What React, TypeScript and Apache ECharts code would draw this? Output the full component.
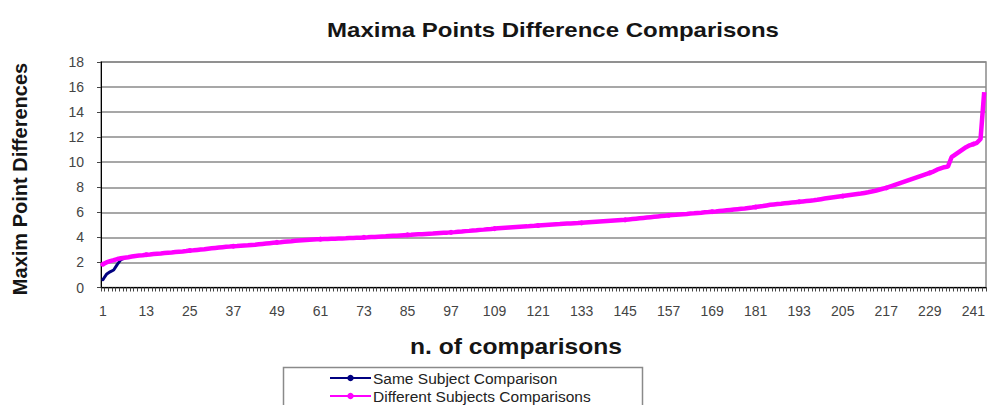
import { useEffect, useRef } from "react";
import * as echarts from "echarts";

// Comparison numbers 1..244 along the x axis
const comparisonIndex: string[] = Array.from({ length: 244 }, (_, i) => String(i + 1));

// Sorted maxima-point differences, same-subject pairs
const sameSubject: number[] = [0.62, 1.05, 1.25, 1.4, 1.85, 2.22, 2.35];

// Sorted maxima-point differences, different-subject pairs
const differentSubjects: number[] = [
  1.85, 2.0, 2.1, 2.18, 2.27, 2.33, 2.38, 2.42, 2.47, 2.52, 2.55, 2.58,
  2.62, 2.64, 2.67, 2.7, 2.72, 2.75, 2.78, 2.8, 2.83, 2.86, 2.88, 2.91,
  2.95, 2.97, 3.0, 3.03, 3.06, 3.1, 3.13, 3.16, 3.19, 3.22, 3.25, 3.27,
  3.3, 3.31, 3.33, 3.35, 3.37, 3.4, 3.42, 3.45, 3.48, 3.51, 3.54, 3.57,
  3.6, 3.62, 3.65, 3.68, 3.7, 3.73, 3.75, 3.77, 3.79, 3.81, 3.83, 3.85,
  3.86, 3.87, 3.88, 3.89, 3.9, 3.91, 3.92, 3.93, 3.95, 3.96, 3.97, 3.98,
  4.0, 4.01, 4.03, 4.04, 4.06, 4.08, 4.09, 4.11, 4.13, 4.14, 4.16, 4.18,
  4.2, 4.21, 4.23, 4.25, 4.26, 4.28, 4.3, 4.31, 4.33, 4.35, 4.37, 4.38,
  4.4, 4.42, 4.45, 4.47, 4.5, 4.52, 4.55, 4.57, 4.6, 4.62, 4.65, 4.67,
  4.7, 4.72, 4.74, 4.76, 4.78, 4.8, 4.82, 4.84, 4.86, 4.88, 4.91, 4.93,
  4.95, 4.97, 4.99, 5.01, 5.03, 5.05, 5.06, 5.08, 5.1, 5.11, 5.13, 5.14,
  5.16, 5.18, 5.2, 5.22, 5.24, 5.26, 5.28, 5.3, 5.32, 5.34, 5.36, 5.38,
  5.4, 5.43, 5.46, 5.49, 5.52, 5.55, 5.58, 5.61, 5.64, 5.67, 5.7, 5.73,
  5.76, 5.78, 5.8, 5.83, 5.85, 5.87, 5.9, 5.92, 5.95, 5.97, 6.0, 6.02,
  6.05, 6.07, 6.1, 6.13, 6.16, 6.19, 6.22, 6.25, 6.28, 6.31, 6.35, 6.38,
  6.42, 6.46, 6.5, 6.55, 6.6, 6.63, 6.66, 6.69, 6.72, 6.75, 6.78, 6.81,
  6.84, 6.87, 6.9, 6.93, 6.96, 7.0, 7.05, 7.1, 7.14, 7.18, 7.22, 7.26,
  7.3, 7.34, 7.38, 7.42, 7.46, 7.5, 7.55, 7.6, 7.66, 7.72, 7.8, 7.88,
  7.95, 8.05, 8.15, 8.25, 8.35, 8.45, 8.55, 8.65, 8.75, 8.85, 8.95, 9.05,
  9.15, 9.25, 9.4, 9.5, 9.6, 9.65, 10.4, 10.6, 10.8, 11.0, 11.2, 11.35,
  11.45, 11.55, 11.85, 15.6,
];

const seriesNames = ["Same Subject Comparison", "Different Subjects Comparisons"];
const titleText = "Maxima Points Difference Comparisons";
const xAxisTitle = "n. of comparisons";
const yAxisTitle = "Maxim Point Differences";

const FONT = "'Liberation Sans', Arial, sans-serif";

// One legend row per series, stacked inside a framed box
const legendRow = (name: string, top: number) => ({
  data: [name],
  orient: "horizontal",
  left: 329,
  top,
  itemWidth: 41,
  itemHeight: 8,
  itemGap: 0,
  padding: 0,
  textStyle: { fontSize: 15.5, fontFamily: FONT, color: "#222", padding: [0, 0, 0, -3] },
});

export default function App() {
  const ref = useRef<HTMLDivElement>(null);

  useEffect(() => {
    if (!ref.current) return;
    const chart = echarts.init(ref.current, null, { renderer: "svg" });
    chart.setOption({
      animation: false,
      backgroundColor: "#ffffff",
      grid: {
        left: 101,
        right: 2,
        top: 62,
        bottom: 117.5,
        show: true,
        borderColor: "#8a8a8a",
        borderWidth: 1.5,
        backgroundColor: "transparent",
      },
      xAxis: {
        type: "category",
        data: comparisonIndex,
        boundaryGap: true,
        axisLine: { lineStyle: { color: "#000", width: 1 } },
        axisTick: {
          show: true,
          interval: 0,
          length: 4,
          lineStyle: { color: "#444", width: 1 },
        },
        axisLabel: {
          interval: 11,
          fontSize: 14,
          color: "#444",
          fontFamily: FONT,
          margin: 16,
        },
        splitLine: { show: false },
      },
      yAxis: {
        type: "value",
        min: 0,
        max: 18,
        interval: 2,
        axisLine: { show: true, lineStyle: { color: "#000", width: 1 } },
        axisTick: { show: true, length: 4, lineStyle: { color: "#444" } },
        axisLabel: {
          fontSize: 14,
          color: "#444",
          fontFamily: FONT,
          margin: 17,
        },
        splitLine: { lineStyle: { color: "#8a8a8a", width: 1.6 } },
      },
      legend: [legendRow(seriesNames[0], 370), legendRow(seriesNames[1], 388)],
      series: [
        {
          name: seriesNames[0],
          type: "line",
          data: sameSubject,
          color: "#000080",
          symbol: "circle",
          symbolSize: 3,
          lineStyle: { width: 3, color: "#000080" },
          itemStyle: { color: "#000080" },
          z: 2,
        },
        {
          name: seriesNames[1],
          type: "line",
          data: differentSubjects,
          color: "#ff00ff",
          symbol: "circle",
          symbolSize: 5,
          lineStyle: { width: 4.5, color: "#ff00ff" },
          itemStyle: { color: "#ff00ff" },
          z: 3,
        },
      ],
      graphic: [
        {
          type: "text",
          x: 553,
          y: 30,
          scaleX: 1.2,
          style: {
            text: titleText,
            fontSize: 20,
            fontWeight: "bold",
            fontFamily: FONT,
            fill: "#151515",
            align: "center",
            verticalAlign: "middle",
          },
        },
        {
          type: "text",
          x: 20,
          y: 179,
          rotation: Math.PI / 2,
          style: {
            text: yAxisTitle,
            fontSize: 20,
            fontWeight: "bold",
            fontFamily: FONT,
            fill: "#151515",
            align: "center",
            verticalAlign: "middle",
          },
        },
        {
          type: "text",
          x: 516,
          y: 346,
          scaleX: 1.12,
          style: {
            text: xAxisTitle,
            fontSize: 22,
            fontWeight: "bold",
            fontFamily: FONT,
            fill: "#151515",
            align: "center",
            verticalAlign: "middle",
          },
        },
        {
          type: "rect",
          shape: { x: 283.5, y: 367.5, width: 359, height: 60 },
          style: { fill: "none", stroke: "#8a8a8a", lineWidth: 1.5 },
        },
      ],
    });
    return () => chart.dispose();
  }, []);

  return (
    <div
      ref={ref}
      style={{ position: "absolute", left: 0, top: 0, width: 988, height: 405 }}
    />
  );
}
